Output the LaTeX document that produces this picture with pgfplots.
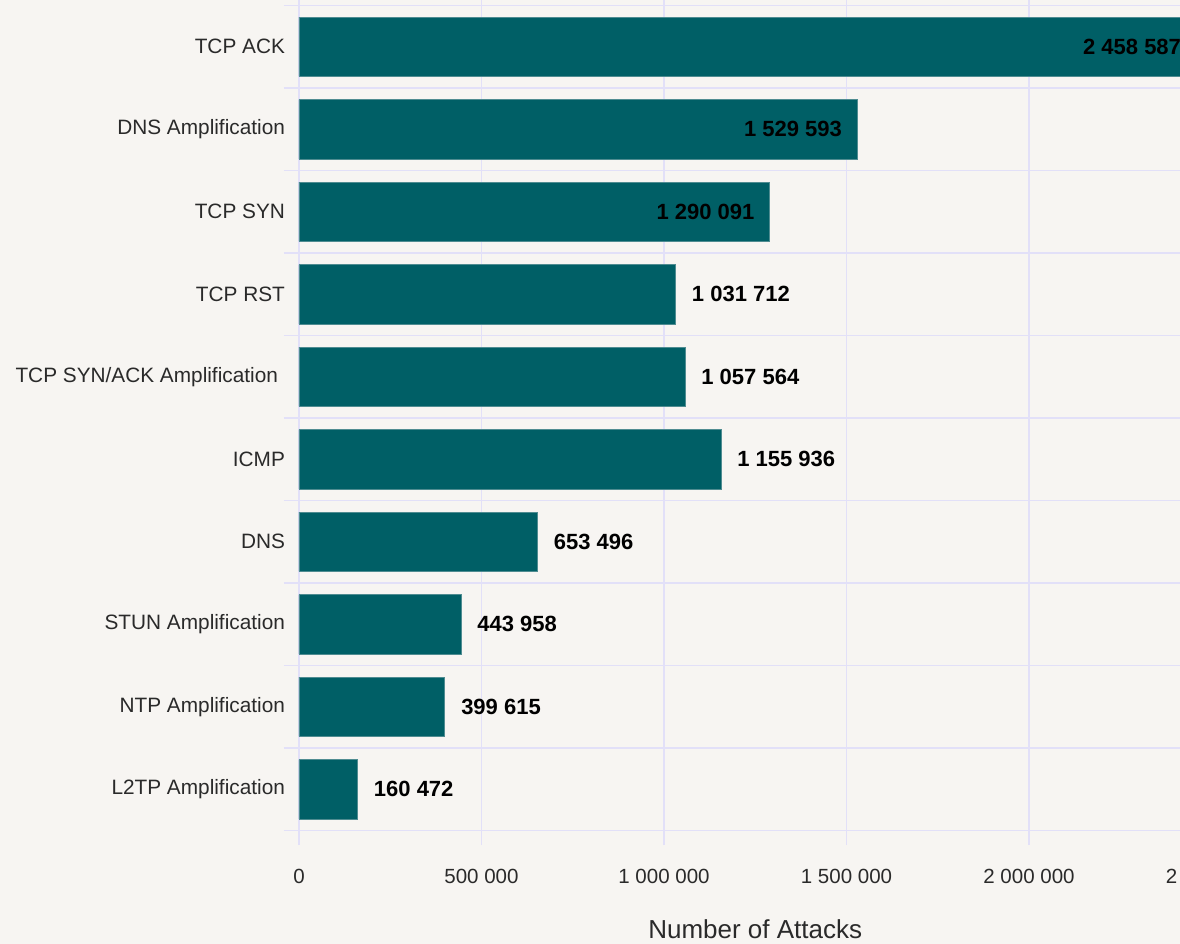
\documentclass[border=0pt]{standalone}
\usepackage{fontspec}
\setmainfont{Liberation Sans}
\usepackage{pgfplots}
\pgfplotsset{compat=1.18}
\definecolor{bgc}{HTML}{F7F5F2}
\definecolor{gridc}{HTML}{E2E0F8}
\definecolor{barc}{HTML}{005F66}
\definecolor{edgec}{HTML}{4F8C91}
\definecolor{labc}{HTML}{2A2A2A}
\begin{document}
\begin{tikzpicture}
\useasboundingbox (0,0) rectangle (590pt,472pt);
\fill[bgc] (0,0) rectangle (590pt,472pt);
\clip (0,0) rectangle (590pt,472pt);
\begin{axis}[
  at={(149.5pt,56.75pt)}, anchor=south west,
  scale only axis, width=456.25pt, height=412.5pt,
  xmin=0, xmax=2500000, ymin=-0.5, ymax=9.5,
  axis line style={draw=none},
  tick align=outside,
  major tick length=7.5pt, minor tick length=7.5pt,
  scaled x ticks=false,
  xtick={0,500000,1000000,1500000,2000000,2500000},
  xticklabels={0,500 000,1 000 000,1 500 000,2 000 000,2 500 000},
  xmajorgrids,
  grid style={gridc, line width=0.7pt},
  xtick style={draw=gridc, line width=0.7pt},
  ytick={0,...,9},
  yticklabels={L2TP Amplification,NTP Amplification,STUN Amplification,DNS,ICMP,TCP SYN/ACK Amplification\hspace*{3.5pt},TCP RST,TCP SYN,DNS Amplification,TCP ACK},
  major y tick style={draw=none},
  minor ytick={-0.5,0.5,...,9.5},
  yminorgrids,
  minor grid style={gridc, line width=0.7pt},
  minor y tick style={draw=gridc, line width=0.7pt},
  xticklabel style={font=\fontsize{10.25}{12}\selectfont, text=labc, yshift=-8.5pt},
  yticklabel style={font=\fontsize{10.4}{12}\selectfont, text=labc, xshift=4pt},
  xlabel={Number of Attacks},
  xlabel style={at={(axis description cs:0.5,0)}, anchor=center, yshift=-49.25pt, font=\fontsize{13}{15}\selectfont, text=labc},
  /pgf/number format/assume math mode=true,
]
\addplot[xbar, bar width=0.72, fill=barc, draw=edgec, line width=0.4pt] coordinates {
  (2458587,9) (1529593,8) (1290091,7) (1031712,6) (1057564,5)
  (1155936,4) (653496,3) (443958,2) (399615,1) (160472,0)};
\addplot[draw=none, mark=none, nodes near coords, point meta=explicit symbolic,
  nodes near coords style={anchor=east, xshift=-7.5pt, inner sep=0pt, font=\bfseries\fontsize{11}{13}\selectfont, text=black}]
  coordinates {(2458587,9) [2\ 458\ 587] (1529593,8) [1\ 529\ 593] (1290091,7) [1\ 290\ 091]};
\addplot[draw=none, mark=none, nodes near coords, point meta=explicit symbolic,
  nodes near coords style={anchor=west, xshift=8pt, inner sep=0pt, font=\bfseries\fontsize{11}{13}\selectfont, text=black}]
  coordinates {(1031712,6) [1\ 031\ 712] (1057564,5) [1\ 057\ 564] (1155936,4) [1\ 155\ 936]
  (653496,3) [653\ 496] (443958,2) [443\ 958] (399615,1) [399\ 615] (160472,0) [160\ 472]};
\end{axis}
\end{tikzpicture}
\end{document}
